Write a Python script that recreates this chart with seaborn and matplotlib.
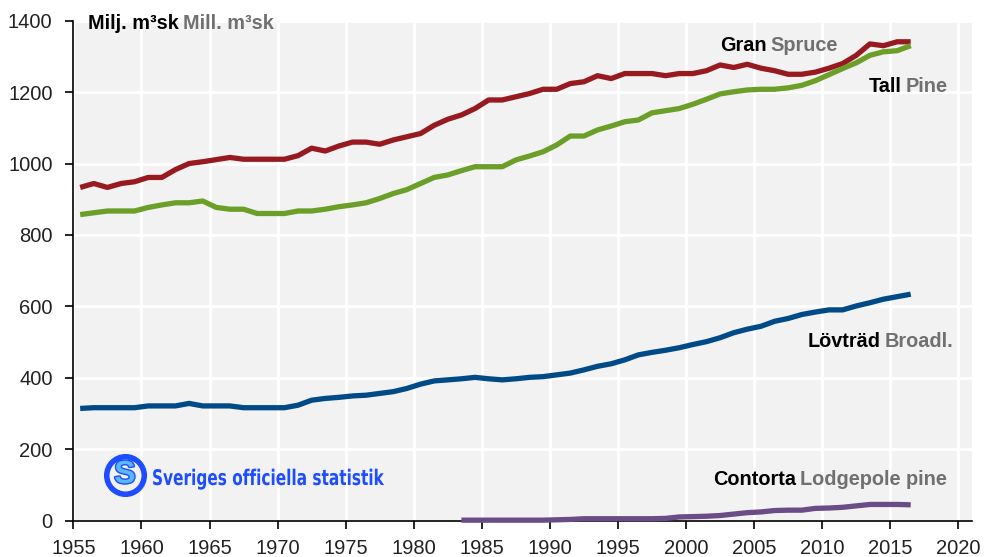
import numpy as np
import pandas as pd
import matplotlib
matplotlib.use("Agg")
import matplotlib.pyplot as plt
import matplotlib.patheffects as pe
from matplotlib.textpath import TextPath
from matplotlib.patches import PathPatch
from matplotlib.font_manager import FontProperties
from matplotlib.transforms import Affine2D
import seaborn as sns

# Virkesförråd (milj. m3sk) per trädslag, 1955-2016
years = list(range(1955, 2017))

gran = [933, 944, 933, 944, 949, 961, 961, 983, 1000, 1005, 1011, 1017, 1012, 1012, 1012, 1012, 1022,
        1043, 1035, 1049, 1060, 1060, 1054, 1066, 1075,
        1084, 1107, 1124, 1136, 1154, 1178, 1178, 1187, 1196, 1208, 1208, 1224, 1229, 1246, 1238,
        1252, 1252, 1252, 1246, 1252, 1252, 1260, 1276, 1269, 1278, 1267, 1260, 1250, 1250, 1256,
        1267, 1280, 1303, 1335, 1330, 1341, 1341]

tall = [857, 862, 867, 867, 867, 877, 884, 890, 890, 895, 877, 872, 872, 860, 860, 860, 867,
        867, 872, 879, 884, 890, 902, 916, 927,
        944, 961, 968, 980, 991, 991, 991, 1010, 1021, 1033, 1052, 1077, 1077, 1094, 1105,
        1117, 1122, 1142, 1148, 1154, 1166, 1180, 1195, 1201, 1206, 1208, 1208, 1212, 1219, 1232,
        1249, 1266, 1282, 1303, 1313, 1316, 1330]

lovtrad = [314, 316, 316, 316, 316, 321, 321, 321, 328, 321, 321, 321, 316, 316, 316, 316, 323,
           337, 342, 345, 349, 351, 356, 361, 370,
           382, 391, 394, 397, 401, 397, 394, 397, 401, 403, 408, 413, 422, 432, 439,
           450, 464, 471, 477, 484, 493, 501, 512, 526, 536, 544, 558, 566, 577, 584,
           590, 590, 601, 610, 620, 627, 634]

contorta_years = list(range(1983, 2017))
contorta = [1, 1, 1, 1, 1, 1, 1, 2, 3, 5, 5, 5, 5, 5, 5, 6, 10, 11, 12, 14,
            18, 22, 24, 28, 29, 29, 34, 35, 37, 41, 45, 45, 45, 44]

xticks = list(range(1955, 2021, 5))
yticks = list(range(0, 1401, 200))

sns.set_theme(style="darkgrid", rc={
    "axes.facecolor": "#f2f2f2",
    "grid.color": "white",
    "grid.linewidth": 2.0,
    "axes.edgecolor": "black",
})
plt.rcParams["font.family"] = ["Liberation Sans", "DejaVu Sans"]

fig = plt.figure(figsize=(9.9, 5.57), dpi=100)
ax = fig.add_axes([0.0741, 0.0655, 0.9077, 0.8973])

df = pd.DataFrame({"pos": np.array(years) + 0.5, "gran": gran, "tall": tall, "lov": lovtrad})
dc = pd.DataFrame({"pos": np.array(contorta_years) + 0.5, "contorta": contorta})

lw = 3.8
sns.lineplot(data=df, x="pos", y="lov", color="#004b87", lw=lw, ax=ax, solid_capstyle="butt")
sns.lineplot(data=df, x="pos", y="gran", color="#971a20", lw=lw, ax=ax, solid_capstyle="butt")
sns.lineplot(data=df, x="pos", y="tall", color="#6b9f28", lw=lw, ax=ax, solid_capstyle="butt")
sns.lineplot(data=dc, x="pos", y="contorta", color="#6a4c86", lw=lw, ax=ax,
             solid_capstyle="butt", clip_on=False, zorder=5)

ax.set_xlim(1955, 2021)
ax.set_ylim(0, 1400)
ax.set_xticks(xticks)
ax.set_yticks(yticks)
ax.set_xlabel("")
ax.set_ylabel("")
for s in ["top", "right"]:
    ax.spines[s].set_visible(False)
for s in ["left", "bottom"]:
    ax.spines[s].set_visible(True)
    ax.spines[s].set_linewidth(1.2)
    ax.spines[s].set_color("black")
ax.tick_params(axis="both", bottom=True, left=True, direction="out", length=6, width=1.2,
               color="black", labelsize=14.5, labelcolor="#222222")
ax.tick_params(axis="y", pad=9)
ax.tick_params(axis="x", pad=7)

gray = "#707070"


def two_tone(x, y, first, second, size=14.3):
    t = ax.text(x, y, first, fontsize=size, fontweight="bold", color="black",
                va="baseline", ha="left", zorder=6)
    ax.annotate(second, xy=(1, 0), xycoords=t, xytext=(3, 0), textcoords="offset points",
                fontsize=size, fontweight="bold", color=gray, va="bottom", ha="left", zorder=6)


two_tone(1956.1, 1376, "Milj. m³sk", "Mill. m³sk")
two_tone(2002.5, 1316, "Gran", "Spruce")
two_tone(2013.4, 1201, "Tall", "Pine")
two_tone(2008.9, 487, "Lövträd", "Broadl.")
two_tone(2002.0, 99, "Contorta", "Lodgepole pine")

# SCB-logga
blue = "#1d4dff"
ax.plot([0.0574], [0.091], marker="o", ms=27, mfc="none", mec=blue, mew=4,
        transform=ax.transAxes, zorder=6)
ax.text(0.0574, 0.091, "S", transform=ax.transAxes, fontsize=23, fontweight="bold",
        color="#5ab8ff", ha="center", va="center", zorder=7,
        path_effects=[pe.withStroke(linewidth=2, foreground=blue)])

# smal logotext: ihoptryckt textpath i pixelkoordinater
tp = TextPath((0, 0), "Sveriges officiella statistik", size=21.5,
              prop=FontProperties(family="DejaVu Sans", weight="bold"))
sx = 231 / tp.get_extents().width
logo = PathPatch(tp, facecolor=blue, edgecolor="none", lw=0,
                 transform=Affine2D().scale(sx, 1.0).translate(152, 557 - 485))
fig.add_artist(logo)

fig.savefig("out.png", dpi=100)
